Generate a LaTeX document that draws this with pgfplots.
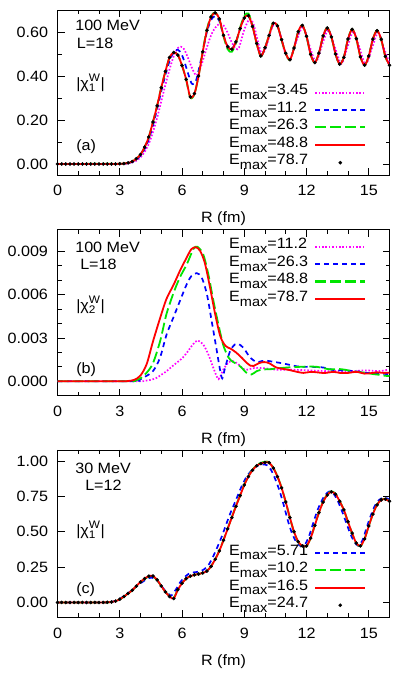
\documentclass[border=0pt]{standalone}
\usepackage{fontspec}
\setmainfont{Liberation Sans}[FakeStretch=1.08]
\usepackage{pgfplots}
\usepackage{pgfplotstable}
\pgfplotsset{compat=1.18}
\newcommand\fs{\fontsize{15}{18}\selectfont}
\newcommand\fss{\fontsize{11}{11}\selectfont}
\newcommand\Emax{E\raisebox{-0.33em}{\fontsize{13.5}{13.5}\selectfont max}}
\definecolor{cmag}{rgb}{1,0,1}
\definecolor{cblu}{rgb}{0,0,1}
\definecolor{cgrn}{rgb}{0,0.9,0}
\definecolor{cred}{rgb}{1,0,0}
\tikzset{lbl/.style={anchor=west, inner sep=0pt, font=\fs}}

\pgfplotstableread{
R v
0.0 0.000
0.2 0.000
0.4 0.000
0.6 0.000
0.8 0.000
1.0 0.000
1.2 0.000
1.4 0.000
1.6 0.000
1.8 0.000
2.0 0.000
2.2 0.000
2.4 0.000
2.6 0.000
2.8 0.000
3.0 0.001
3.2 0.002
3.4 0.005
3.6 0.011
3.8 0.024
4.0 0.043
4.2 0.077
4.4 0.123
4.6 0.191
4.8 0.264
5.0 0.347
5.2 0.421
5.4 0.484
5.6 0.507
5.8 0.495
6.0 0.448
6.2 0.385
6.4 0.305
6.6 0.320
6.8 0.400
7.0 0.510
7.2 0.608
7.4 0.668
7.6 0.687
7.8 0.660
8.0 0.585
8.2 0.533
8.4 0.522
8.6 0.555
8.8 0.615
9.0 0.664
9.2 0.674
9.4 0.625
9.6 0.548
9.8 0.491
10.0 0.528
10.2 0.585
10.4 0.640
10.6 0.628
10.8 0.565
11.0 0.503
11.2 0.474
11.4 0.527
11.6 0.601
11.8 0.630
12.0 0.581
12.2 0.498
12.4 0.461
12.6 0.504
12.8 0.582
13.0 0.618
13.2 0.578
13.4 0.500
13.6 0.454
13.8 0.485
14.0 0.568
14.2 0.612
14.4 0.570
14.6 0.487
14.8 0.449
15.0 0.491
15.2 0.568
15.4 0.606
15.6 0.567
15.8 0.489
16.0 0.449
}\mainA

\pgfplotstableread{
R v
0.0 0.000
0.2 0.000
0.4 0.000
0.6 0.000
0.8 0.000
1.0 0.000
1.2 0.000
1.4 0.000
1.6 0.000
1.8 0.000
2.0 0.000
2.2 0.000
2.4 0.001
2.6 0.003
2.8 0.010
3.0 0.022
3.2 0.042
3.4 0.063
3.6 0.086
3.8 0.116
4.0 0.145
4.2 0.169
4.4 0.186
4.6 0.187
4.8 0.160
5.0 0.116
5.2 0.075
5.4 0.042
5.6 0.028
5.8 0.090
6.0 0.135
6.2 0.168
6.4 0.186
6.6 0.195
6.8 0.201
7.0 0.209
7.2 0.222
7.4 0.255
7.6 0.305
7.8 0.365
8.0 0.440
8.2 0.520
8.4 0.600
8.6 0.680
8.8 0.755
9.0 0.830
9.2 0.890
9.4 0.935
9.6 0.967
9.8 0.982
10.0 0.990
10.2 0.988
10.4 0.950
10.6 0.890
10.8 0.810
11.0 0.710
11.2 0.600
11.4 0.500
11.6 0.430
11.8 0.400
12.0 0.400
12.2 0.455
12.4 0.545
12.6 0.635
12.8 0.710
13.0 0.760
13.2 0.782
13.4 0.765
13.6 0.715
13.8 0.655
14.0 0.570
14.2 0.490
14.4 0.420
14.6 0.400
14.8 0.450
15.0 0.540
15.2 0.625
15.4 0.690
15.6 0.725
15.8 0.730
16.0 0.715
}\mainC

\pgfplotsset{
 panel/.style={
  scale only axis, width=332bp,
  xmin=0, xmax=16, xtick={0,3,...,15}, minor x tick num=2,
  tick align=inside,
  major tick length=7bp, minor tick length=4bp,
  axis line style={line width=0.9bp},
  every tick/.append style={line width=0.8bp, black},
  every minor tick/.append style={line width=0.8bp, black},
  tick label style={font=\fs},
  xticklabel style={yshift=-7bp},
  yticklabel style={xshift=-6bp},
  /pgf/number format/assume math mode=true,
  xlabel={R (fm)},
  xlabel style={font=\fs, at={(axis description cs:0.5,0)}, anchor=center, yshift=-44bp},
  legend cell align=left,
  legend plot pos=right,
  legend image code/.code={\draw[##1] (0bp,0bp) -- (50bp,0bp);},
  legend style={draw=none, fill=none, font=\fs, anchor=north west, inner sep=0pt, outer sep=0pt,
    /tikz/column sep=6bp, /tikz/row sep=0pt,
    nodes={inner sep=0pt, text height=11bp, text depth=6.5bp}},
 },
 lmag/.style={cmag, line width=1.7bp, dash pattern=on 1.6bp off 1.8bp, smooth},
 lblu/.style={cblu, line width=1.7bp, dash pattern=on 5bp off 4bp, smooth},
 lgrn/.style={cgrn, line width=1.8bp, dash pattern=on 11bp off 4bp, smooth,
   legend image code/.code={\draw[cgrn, line width=2.2bp, dash pattern=on 11bp off 4bp] (0bp,0.3bp) -- (50bp,0.3bp);}},
 lred/.style={cred, line width=1.8bp, smooth},
 ldot/.style={only marks, mark=*, mark size=1.6bp, black,
   legend image code/.code={\fill[black] (25bp,0bp) circle (1.6bp);}},
}

\begin{document}
\begin{tikzpicture}
\path[use as bounding box] (0,0) rectangle (399bp,675bp);

% ---------------- panel (a)
\begin{axis}[panel, at={(57.5bp,500bp)}, anchor=south west, height=165bp,
  ymin=-0.05, ymax=0.70, ytick={0,0.2,0.4,0.6}, minor y tick num=1,
  yticklabel style={/pgf/number format/.cd, fixed, fixed zerofill, precision=2},
  legend style={at={(axis description cs:0.517,0.552)}}]
\addplot[lmag] coordinates {(0,0) (3.0,0) (3.4,0.003) (3.6,0.007) (3.8,0.015) (4.0,0.030) (4.2,0.055) (4.4,0.092) (4.6,0.145) (4.8,0.210) (5.0,0.285) (5.2,0.360) (5.4,0.430) (5.6,0.490) (5.8,0.527) (5.95,0.533) (6.1,0.522) (6.3,0.480) (6.5,0.432) (6.7,0.403) (6.9,0.440) (7.1,0.500) (7.3,0.560) (7.5,0.605) (7.7,0.630) (7.85,0.638) (8.0,0.630) (8.2,0.597) (8.4,0.552) (8.6,0.524) (8.75,0.530) (9.0,0.610) (9.25,0.658) (9.45,0.635) (9.65,0.560) (9.85,0.500) (10.05,0.530) (10.3,0.610) (10.5,0.640) (10.7,0.600) (10.95,0.510) (11.2,0.475) (11.5,0.555) (11.82,0.622) (12.1,0.550) (12.45,0.465) (12.75,0.540) (13.05,0.610) (13.35,0.535) (13.68,0.456) (13.97,0.530) (14.26,0.603) (14.55,0.530) (14.85,0.452) (15.15,0.525) (15.45,0.597) (15.72,0.530) (16.0,0.458)};
\addlegendentry{\Emax=3.45}
\addplot[lblu] coordinates {(0,0) (3.0,0) (3.4,0.004) (3.6,0.009) (3.8,0.020) (4.0,0.038) (4.2,0.068) (4.4,0.112) (4.6,0.175) (4.8,0.250) (5.0,0.330) (5.2,0.405) (5.4,0.468) (5.6,0.508) (5.8,0.520) (6.0,0.495) (6.2,0.440) (6.4,0.380) (6.5,0.363) (6.65,0.372) (6.8,0.425) (7.0,0.512) (7.2,0.600) (7.4,0.655) (7.6,0.672) (7.8,0.650) (8.0,0.585) (8.2,0.535) (8.4,0.524) (8.6,0.555) (8.8,0.615) (9.0,0.662) (9.2,0.674) (9.4,0.625) (9.6,0.548) (9.8,0.493) (10.0,0.528) (10.2,0.585) (10.4,0.638) (10.6,0.628) (10.8,0.565) (11.0,0.503) (11.2,0.475) (11.4,0.527) (11.6,0.600) (11.8,0.628) (12.0,0.581) (12.2,0.499) (12.4,0.462) (12.6,0.504) (12.8,0.580) (13.0,0.616) (13.2,0.578) (13.4,0.500) (13.6,0.455) (13.8,0.485) (14.0,0.566) (14.2,0.610) (14.4,0.570) (14.6,0.488) (14.8,0.450) (15.0,0.491) (15.2,0.566) (15.4,0.604) (15.6,0.567) (15.8,0.490) (16.0,0.450)};
\addlegendentry{\Emax=11.2}
\addplot[lgrn] coordinates {(0,0) (3.0,0.001) (3.2,0.002) (3.4,0.005) (3.6,0.011) (3.8,0.024) (4.0,0.043) (4.2,0.077) (4.4,0.123) (4.6,0.191) (4.8,0.264) (5.0,0.347) (5.2,0.421) (5.4,0.484) (5.6,0.507) (5.8,0.495) (6.0,0.448) (6.2,0.383) (6.4,0.302) (6.6,0.318) (6.8,0.402) (7.0,0.514) (7.2,0.612) (7.4,0.672) (7.6,0.688) (7.8,0.658) (8.0,0.580) (8.2,0.522) (8.4,0.510) (8.6,0.550) (8.8,0.620) (9.0,0.672) (9.2,0.684) (9.4,0.628) (9.6,0.546) (9.8,0.490) (10.0,0.528) (10.2,0.588) (10.4,0.645) (10.6,0.630) (10.8,0.563) (11.0,0.501) (11.2,0.473) (11.4,0.528) (11.6,0.603) (11.8,0.631) (12.0,0.580) (12.2,0.497) (12.4,0.460) (12.6,0.505) (12.8,0.583) (13.0,0.619) (13.2,0.577) (13.4,0.499) (13.6,0.453) (13.8,0.486) (14.0,0.569) (14.2,0.613) (14.4,0.569) (14.6,0.486) (14.8,0.448) (15.0,0.492) (15.2,0.569) (15.4,0.607) (15.6,0.566) (15.8,0.488) (16.0,0.448)};
\addlegendentry{\Emax=26.3}
\addplot[lred] table[x=R,y=v] {\mainA};
\addlegendentry{\Emax=48.8}
\addplot[ldot] table[x=R,y=v] {\mainA};
\addlegendentry{\Emax=78.7}
\node[lbl] at (axis description cs:0.053,0.909) {100 MeV};
\node[lbl] at (axis description cs:0.058,0.800) {L=18};
\node[lbl] at (axis description cs:0.056,0.558) {$\mbox{|χ}^{\mbox{\fss W}}_{\mbox{\fss 1}}\mbox{|}$};
\node[lbl] at (axis description cs:0.056,0.170) {(a)};
\end{axis}

% ---------------- panel (b)
\begin{axis}[panel, at={(57.5bp,279.3bp)}, anchor=south west, height=166bp,
  ymin=-0.001, ymax=0.0105, ytick={0,0.003,0.006,0.009}, minor y tick num=2,
  scaled y ticks=false,
  yticklabel style={/pgf/number format/.cd, fixed, fixed zerofill, precision=3},
  legend style={at={(axis description cs:0.517,0.95)}}]
\addplot[lmag] coordinates {(0,0) (3.8,0) (4.2,0.00003) (4.5,0.0001) (4.77,0.00023) (5.0,0.00045) (5.26,0.0007) (5.5,0.001) (5.74,0.00128) (6.0,0.00158) (6.23,0.00197) (6.5,0.0025) (6.74,0.00283) (7.02,0.00255) (7.27,0.00186) (7.51,0.00093) (7.76,0.00015) (7.99,0.00081) (8.24,0.0013) (8.45,0.0014) (8.7,0.0012) (8.95,0.00085) (9.15,0.0008) (9.4,0.0009) (9.7,0.00093) (10.1,0.00088) (10.58,0.0008) (11.22,0.00081) (11.7,0.00078) (12.19,0.00075) (12.7,0.00072) (13.15,0.0007) (13.6,0.00072) (14.12,0.0007) (14.6,0.00074) (14.94,0.00075) (15.3,0.00071) (15.6,0.00072) (15.95,0.0008)};
\addlegendentry{\Emax=11.2}
\addplot[lblu] coordinates {(0,0) (3.6,0) (3.9,0.00008) (4.2,0.0003) (4.6,0.0007) (4.94,0.00163) (5.26,0.00325) (5.58,0.0044) (5.9,0.00556) (6.23,0.00673) (6.46,0.0073) (6.71,0.00749) (6.95,0.00719) (7.2,0.00603) (7.43,0.00417) (7.68,0.00209) (7.82,0.0009) (7.94,0.0002) (8.07,0.0009) (8.32,0.0021) (8.55,0.00255) (8.7,0.0026) (8.96,0.00232) (9.29,0.00163) (9.61,0.00133) (9.85,0.0014) (10.09,0.00142) (10.4,0.00135) (10.89,0.00123) (11.3,0.0011) (11.7,0.001) (12.2,0.001) (12.7,0.00097) (13.0,0.0009) (13.31,0.00077) (13.8,0.00075) (14.33,0.0007) (14.94,0.00058) (15.45,0.00053) (16.0,0.0005)};
\addlegendentry{\Emax=26.3}
\addplot[lgrn] coordinates {(0,0) (3.4,0) (3.7,0.00005) (4.0,0.0002) (4.3,0.0006) (4.6,0.00125) (4.95,0.0028) (5.25,0.00465) (5.6,0.00615) (5.9,0.0072) (6.23,0.0081) (6.55,0.00916) (6.74,0.00932) (7.02,0.0088) (7.27,0.0074) (7.51,0.0056) (7.76,0.0039) (7.99,0.0025) (8.24,0.00165) (8.45,0.00135) (8.7,0.00115) (8.9,0.0009) (9.1,0.0006) (9.35,0.00047) (9.6,0.0007) (9.9,0.00082) (10.25,0.00083) (10.6,0.0009) (10.9,0.00093) (11.3,0.00098) (11.7,0.001) (12.1,0.00102) (12.5,0.001) (12.85,0.0009) (13.15,0.00082) (13.5,0.00085) (13.8,0.00081) (14.2,0.0007) (14.6,0.00062) (14.93,0.00058) (15.2,0.0005) (15.5,0.00045) (15.8,0.00038) (16.0,0.00036)};
\addlegendentry{\Emax=48.8}
\addplot[lred] coordinates {(0,0) (3.0,0) (3.4,0.00002) (3.7,0.0001) (4.0,0.0004) (4.3,0.0012) (4.6,0.00275) (4.95,0.0044) (5.25,0.0057) (5.6,0.0067) (5.9,0.00765) (6.2,0.0085) (6.45,0.00915) (6.67,0.00928) (6.87,0.00904) (7.1,0.0082) (7.35,0.0065) (7.6,0.00464) (7.85,0.0031) (8.1,0.00245) (8.35,0.00225) (8.6,0.002) (8.9,0.0016) (9.1,0.0013) (9.3,0.00108) (9.45,0.00106) (9.7,0.00125) (9.95,0.00133) (10.2,0.00125) (10.55,0.00095) (10.9,0.00085) (11.2,0.00077) (11.55,0.00065) (11.85,0.00058) (12.2,0.00065) (12.5,0.00062) (12.85,0.00057) (13.3,0.00065) (13.6,0.00058) (13.95,0.00057) (14.4,0.00065) (14.8,0.00053) (15.1,0.00056) (15.4,0.00062) (15.7,0.00058) (16.0,0.0006)};
\addlegendentry{\Emax=78.7}
\node[lbl] at (axis description cs:0.053,0.896) {100 MeV};
\node[lbl] at (axis description cs:0.068,0.794) {L=18};
\node[lbl] at (axis description cs:0.056,0.546) {$\mbox{|χ}^{\mbox{\fss W}}_{\mbox{\fss 2}}\mbox{|}$};
\node[lbl] at (axis description cs:0.056,0.155) {(b)};
\end{axis}

% ---------------- panel (c)
\begin{axis}[panel, at={(57.5bp,57.7bp)}, anchor=south west, height=167.3bp,
  ymin=-0.105, ymax=1.078, ytick={0,0.25,0.5,0.75,1}, minor y tick num=0,
  yticklabel style={/pgf/number format/.cd, fixed, fixed zerofill, precision=2},
  legend style={at={(axis description cs:0.517,0.438)}}]
\addplot[lblu] coordinates {(0,0) (2.4,0) (2.6,0.004) (2.8,0.012) (3.0,0.026) (3.2,0.045) (3.4,0.066) (3.6,0.088) (3.8,0.112) (4.0,0.135) (4.2,0.156) (4.4,0.172) (4.55,0.176) (4.8,0.155) (5.0,0.120) (5.2,0.080) (5.4,0.055) (5.5,0.050) (5.7,0.090) (5.9,0.140) (6.1,0.175) (6.3,0.200) (6.5,0.212) (6.7,0.215) (6.9,0.222) (7.1,0.238) (7.3,0.270) (7.5,0.325) (7.7,0.390) (7.9,0.460) (8.1,0.540) (8.3,0.620) (8.5,0.690) (8.7,0.760) (8.9,0.830) (9.1,0.885) (9.3,0.925) (9.5,0.955) (9.7,0.970) (9.9,0.976) (10.1,0.970) (10.3,0.935) (10.5,0.870) (10.7,0.790) (10.9,0.690) (11.1,0.580) (11.3,0.490) (11.5,0.430) (11.7,0.400) (11.9,0.405) (12.1,0.460) (12.3,0.550) (12.5,0.640) (12.7,0.710) (12.9,0.760) (13.1,0.785) (13.3,0.770) (13.5,0.720) (13.7,0.650) (13.9,0.570) (14.1,0.490) (14.3,0.430) (14.5,0.400) (14.7,0.440) (14.9,0.530) (15.1,0.615) (15.3,0.685) (15.5,0.725) (15.7,0.740) (15.9,0.735) (16.0,0.725)};
\addlegendentry{\Emax=5.71}
\addplot[lgrn] coordinates {(0,0) (2.2,0) (2.4,0.001) (2.6,0.003) (2.8,0.010) (3.0,0.022) (3.2,0.041) (3.4,0.062) (3.6,0.085) (3.8,0.115) (4.0,0.143) (4.2,0.167) (4.4,0.182) (4.6,0.183) (4.8,0.158) (5.0,0.116) (5.2,0.076) (5.4,0.044) (5.6,0.032) (5.8,0.092) (6.0,0.136) (6.2,0.168) (6.4,0.186) (6.6,0.195) (6.8,0.201) (7.0,0.209) (7.2,0.222) (7.4,0.256) (7.6,0.306) (7.8,0.367) (8.0,0.442) (8.2,0.523) (8.4,0.603) (8.6,0.683) (8.8,0.758) (9.0,0.833) (9.2,0.893) (9.4,0.939) (9.6,0.971) (9.8,0.987) (10.0,0.995) (10.2,0.992) (10.4,0.953) (10.6,0.892) (10.8,0.811) (11.0,0.710) (11.2,0.598) (11.4,0.497) (11.6,0.427) (11.8,0.397) (12.0,0.398) (12.2,0.455) (12.4,0.546) (12.6,0.637) (12.8,0.713) (13.0,0.764) (13.2,0.786) (13.4,0.768) (13.6,0.716) (13.8,0.655) (14.0,0.569) (14.2,0.488) (14.4,0.418) (14.6,0.398) (14.8,0.450) (15.0,0.541) (15.2,0.627) (15.4,0.692) (15.6,0.727) (15.8,0.732) (16.0,0.716)};
\addlegendentry{\Emax=10.2}
\addplot[lred] table[x=R,y=v] {\mainC};
\addlegendentry{\Emax=16.5}
\addplot[ldot] table[x=R,y=v] {\mainC};
\addlegendentry{\Emax=24.7}
\node[lbl] at (axis description cs:0.053,0.888) {30 MeV};
\node[lbl] at (axis description cs:0.083,0.792) {L=12};
\node[lbl] at (axis description cs:0.056,0.523) {$\mbox{|χ}^{\mbox{\fss W}}_{\mbox{\fss 1}}\mbox{|}$};
\node[lbl] at (axis description cs:0.056,0.163) {(c)};
\end{axis}
\end{tikzpicture}
\end{document}
